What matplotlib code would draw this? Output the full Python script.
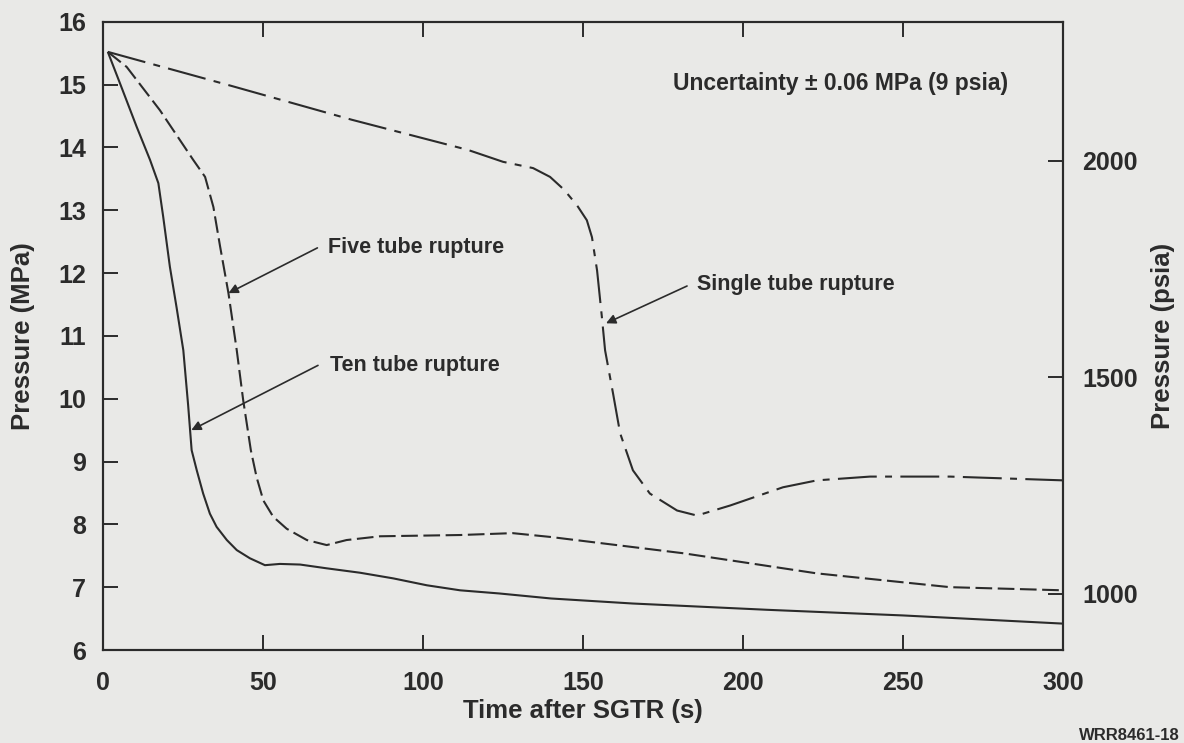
import matplotlib
matplotlib.use("Agg")
import matplotlib.pyplot as plt

plt.rcParams['font.family'] = ['Liberation Sans', 'DejaVu Sans']
plt.rcParams['lines.scale_dashes'] = False

# ---- data ----
ten_t = [1.5, 5.3, 10.5, 14.7, 17.3, 18.8, 20.9, 23.0, 25.1, 26.6, 27.7, 29.3, 31.3, 33.4,
         35.5, 38.7, 41.8, 45.9, 50.6, 55.3, 61.6, 69.9, 80.3, 90.7, 101.2, 111.6,
         123.8, 140, 165.5, 207.5, 250, 300]
ten_p = [15.52, 15.02, 14.33, 13.80, 13.43, 12.90, 12.10, 11.45, 10.77, 9.90, 9.18, 8.86, 8.49, 8.17,
         7.96, 7.75, 7.59, 7.46, 7.35, 7.37, 7.36, 7.30, 7.23, 7.14, 7.03, 6.95,
         6.90, 6.82, 6.74, 6.64, 6.55, 6.42]

five_t = [1.5, 7.4, 17.8, 28.2, 31.9, 34.5, 36.6, 39.2, 41.8, 43.8, 46.2, 48.0, 50.1,
          53.2, 57.4, 63.7, 69.9, 76.1, 86.6, 111.6, 128, 139.7, 160.5, 181.3, 202.2,
          223, 243.8, 264.7, 300]
five_p = [15.52, 15.28, 14.59, 13.80, 13.53, 13.05, 12.42, 11.68, 10.77, 9.98, 9.18, 8.75, 8.38,
          8.12, 7.93, 7.75, 7.67, 7.75, 7.81, 7.83, 7.86, 7.80, 7.67, 7.54, 7.38,
          7.22, 7.11, 7.00, 6.95]

single_t = [1.5, 40, 77.7, 114, 125, 134.4, 139.7, 144, 148.1, 151.2, 152.8, 154.4, 155.9,
            156.9, 159.4, 161.6, 165.6, 170.9, 179.4, 185.6, 196, 212.5, 223.1, 239.7,
            264.7, 300]
single_p = [15.52, 14.98, 14.44, 13.96, 13.77, 13.67, 13.53, 13.33, 13.08, 12.84, 12.57, 12.04, 11.30,
            10.77, 10.08, 9.45, 8.86, 8.49, 8.22, 8.14, 8.30, 8.59, 8.70, 8.76,
            8.76, 8.70]

x_ticks = [0, 50, 100, 150, 200, 250, 300]
y_ticks = [6, 7, 8, 9, 10, 11, 12, 13, 14, 15, 16]
psia_ticks = [1000, 1500, 2000]
MPA_TO_PSIA = 145.038

bg = '#e9e9e7'
ink = '#2b2b2b'

fig = plt.figure(figsize=(11.84, 7.43), dpi=100, facecolor=bg)
ax = fig.add_axes([103/1184, 93/743, 960/1184, 628.3/743])
ax.set_facecolor(bg)

lw = 1.5
ax.plot(ten_t, ten_p, color=ink, lw=lw, solid_capstyle='butt')
ax.plot(five_t, five_p, color=ink, lw=lw, dashes=(12, 4))
ax.plot(single_t, single_p, color=ink, lw=lw, dashes=(28, 6, 5, 6))

ax.set_xlim(0, 300)
ax.set_ylim(6, 16)
ax.set_xticks(x_ticks)
ax.set_yticks(y_ticks)
for s in ax.spines.values():
    s.set_linewidth(1.5)
    s.set_color(ink)
ax.tick_params(direction='in', length=11, width=1.4, colors=ink, labelsize=18,
               pad=12, top=True, labeltop=False, right=False)
ax.tick_params(axis='x', pad=15)
for lab in ax.get_xticklabels() + ax.get_yticklabels():
    lab.set_fontweight('bold')
ax.set_xlabel('Time after SGTR (s)', fontsize=18.5, fontweight='bold', color=ink)
ax.xaxis.set_label_coords(0.5, -(699 - 650) / 628.3)
ax.set_ylabel('Pressure (MPa)', fontsize=18.5, fontweight='bold', color=ink)
ax.yaxis.set_label_coords((35 - 103) / 960, 0.5)

ax2 = ax.twinx()
ax2.set_ylim(6 * MPA_TO_PSIA, 16 * MPA_TO_PSIA)
ax2.set_yticks(psia_ticks)
ax2.tick_params(direction='in', length=11, width=1.4, colors=ink, labelsize=18, pad=14)
for lab in ax2.get_yticklabels():
    lab.set_fontweight('bold')
for s in ax2.spines.values():
    s.set_linewidth(1.5)
    s.set_color(ink)
ax2.set_ylabel('Pressure (psia)', fontsize=18.5, fontweight='bold', color=ink)
ax2.yaxis.set_label_coords((1151 - 103) / 960, 0.5)

arrow = dict(arrowstyle='-|>', color=ink, lw=1.2, mutation_scale=14, shrinkA=0, shrinkB=0)
ax.annotate('Five tube rupture', xy=(39.2, 11.68), xytext=(70.3, 12.40),
            fontsize=15.5, fontweight='bold', color=ink, va='center', ha='left',
            arrowprops=dict(arrow, relpos=(-0.06, 0.5)))
ax.annotate('Ten tube rupture', xy=(27.6, 9.50), xytext=(70.9, 10.53),
            fontsize=15.5, fontweight='bold', color=ink, va='center', ha='left',
            arrowprops=dict(arrow, relpos=(-0.07, 0.5)))
ax.annotate('Single tube rupture', xy=(157.2, 11.2), xytext=(185.6, 11.81),
            fontsize=15.5, fontweight='bold', color=ink, va='center', ha='left',
            arrowprops=dict(arrow, relpos=(-0.05, 0.45)))
ax.text(178, 15.02, 'Uncertainty \u00b1 0.06 MPa (9 psia)', fontsize=16.5, fontweight='bold',
        color=ink, va='center', ha='left')

fig.text(1180/1184, 1 - 735/743, 'WRR8461-18', fontsize=12, fontweight='bold',
         color=ink, ha='right', va='center')

fig.savefig('out.png', dpi=100, facecolor=bg)
